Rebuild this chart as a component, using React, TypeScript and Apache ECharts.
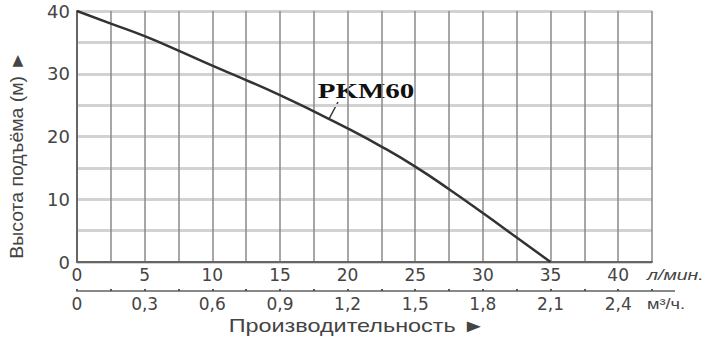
import React, { useEffect, useRef } from "react";
import * as echarts from "echarts";

const flowLpm = [0, 2.5, 5, 7.5, 10, 12.5, 15, 17.5, 20, 22.5, 25, 27.5, 30, 32.5, 35];
const headM = [40, 38, 36, 33.7, 31.3, 29, 26.6, 24, 21.3, 18.4, 15.2, 11.6, 7.8, 3.9, 0];
const seriesName = "PKM60";
const yTicks = [0, 10, 20, 30, 40];
const xTicksLpm = [0, 5, 10, 15, 20, 25, 30, 35, 40];
const xTicksM3h = ["0", "0,3", "0,6", "0,9", "1,2", "1,5", "1,8", "2,1", "2,4"];
const unitLpm = "л/мин.";
const unitM3h = "м³/ч.";
const xTitle = "Производительность ►";
const yTitle = "Высота подъёма (м) ►";

export default function App() {
  const ref = useRef<HTMLDivElement>(null);
  useEffect(() => {
    const chart = echarts.init(ref.current!, undefined, { renderer: "svg" });
    const font = "'Liberation Sans', Arial, sans-serif";
    const tickFont = "'DejaVu Sans', sans-serif";
    const txt = "#444";
    chart.setOption({
      animation: false,
      textStyle: { fontFamily: font },
      grid: { left: 77, right: 58, top: 11, bottom: 75, containLabel: false },
      xAxis: [
        {
          type: "value",
          min: 0,
          max: 42.5,
          interval: 2.5,
          position: "bottom",
          axisLine: { show: true, lineStyle: { color: "#666", width: 2 } },
          axisTick: { show: false },
          splitLine: { show: true, lineStyle: { color: "#8a8a8a", width: 1.5 } },
          axisLabel: {
            color: txt,
            fontSize: 17,
            fontFamily: tickFont,
            margin: 4,
            formatter: (v: number) => (xTicksLpm.includes(v) ? String(v) : ""),
          },
        },
        {
          type: "value",
          min: 0,
          max: 42.5,
          interval: 2.5,
          position: "bottom",
          offset: 29,
          axisLine: { show: true, lineStyle: { color: "#888", width: 2 } },
          axisTick: {
            show: true,
            length: 2,
            inside: true,
            lineStyle: { color: "#555", width: 2 },
            interval: (i: number) => i % 2 === 0,
          },
          splitLine: { show: false },
          axisLabel: {
            color: txt,
            fontSize: 17,
            fontFamily: tickFont,
            margin: 4,
            formatter: (v: number) => {
              const idx = xTicksLpm.indexOf(v);
              return idx >= 0 ? xTicksM3h[idx] : "";
            },
          },
        },
      ],
      yAxis: {
        type: "value",
        min: 0,
        max: 40,
        interval: 5,
        axisLine: { show: true, lineStyle: { color: "#666", width: 2 } },
        axisTick: { show: false },
        splitLine: { show: true, lineStyle: { color: "#d2d2d2", width: 3 } },
        axisLabel: {
          color: txt,
          fontSize: 18,
          fontFamily: tickFont,
          margin: 7,
          formatter: (v: number) => (yTicks.includes(v) ? String(v) : ""),
        },
      },
      series: [
        {
          name: seriesName,
          type: "line",
          smooth: true,
          showSymbol: false,
          data: flowLpm.map((x, i) => [x, headM[i]]),
          lineStyle: { color: "#333", width: 2.5 },
          z: 5,
        },
      ],
      graphic: [
        {
          type: "text",
          x: 647,
          y: 275,
          scaleX: 1.3,
          style: { text: unitLpm, fill: txt, font: `italic 15px ${font}`, align: "left", verticalAlign: "middle" },
        },
        {
          type: "text",
          x: 647,
          y: 304,
          scaleX: 1.3,
          style: { text: unitM3h, fill: txt, font: `14px ${font}`, align: "left", verticalAlign: "middle" },
        },
        {
          type: "line",
          shape: { x1: 652, y1: 291, x2: 675, y2: 291 },
          style: { stroke: "#888", lineWidth: 2 },
        },
        {
          type: "text",
          x: 357,
          y: 326,
          scaleX: 1.3,
          style: { text: xTitle, fill: txt, font: `18px ${font}`, align: "center", verticalAlign: "middle" },
        },
        {
          type: "text",
          x: 17,
          y: 155,
          rotation: Math.PI / 2,
          scaleX: 1.08,
          style: { text: yTitle, fill: txt, font: `18px ${font}`, align: "center", verticalAlign: "middle" },
        },
        {
          type: "text",
          x: 366,
          y: 91,
          scaleX: 1.45,
          style: {
            text: seriesName,
            fill: "#111",
            font: `bold 20px 'Liberation Serif', 'Times New Roman', serif`,
            align: "center",
            verticalAlign: "middle",
          },
        },
        {
          type: "line",
          shape: { x1: 338, y1: 102, x2: 329, y2: 119 },
          style: { stroke: "#333", lineWidth: 1.5 },
        },
      ],
    });
    return () => chart.dispose();
  }, []);
  return (
    <div
      ref={ref}
      style={{ position: "fixed", top: 0, left: 0, width: 710, height: 337, background: "#fff" }}
    />
  );
}
